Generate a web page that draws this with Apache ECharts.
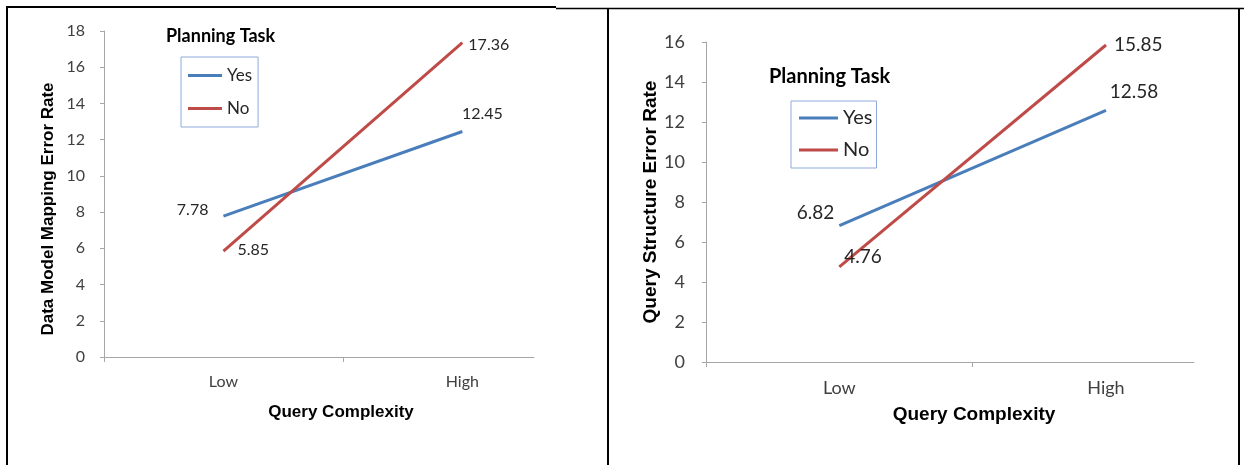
<!DOCTYPE html>
<html>
<head>
<meta charset="utf-8">
<script src="https://cdn.jsdelivr.net/npm/echarts@6/dist/echarts.min.js"></script>
<style>
  html, body { margin: 0; padding: 0; background: #ffffff; }
  #chart { width: 1244px; height: 465px; }
</style>
</head>
<body>
<div id="chart"></div>
<script>
// Categories on the horizontal axis
const categories = ['Low', 'High'];
const legendNames = ['Yes', 'No'];

// Data model mapping error rate (left panel)
const mappingYes = [7.78, 12.45];
const mappingNo = [5.85, 17.36];

// Query structure error rate (right panel)
const structureYes = [6.82, 12.58];
const structureNo = [4.76, 15.85];

// Vertical axis ranges
const mappingAxis = { min: 0, max: 18, interval: 2 };
const structureAxis = { min: 0, max: 16, interval: 2 };

const BLUE = '#4A7EBB';
const RED = '#BE4B48';
const AXIS_GRAY = '#A6A6A6';
const TEXT = '#262626';
const TICK_TEXT = '#404040';

const toPoints = vals => vals.map((v, i) => [i, v]);

function xAxisFor(gridIndex, max, fontSize, nameSize, nameGap, namePad) {
  return {
    type: 'value', gridIndex, min: -0.5, max, interval: 0.5,
    name: 'Query Complexity', nameLocation: 'middle', nameGap,
    nameTextStyle: { fontFamily: 'Liberation Sans', fontWeight: 'bold', fontSize: nameSize, color: '#000', padding: [0, 0, 0, namePad] },
    axisLine: { show: true, onZero: false, lineStyle: { color: AXIS_GRAY, width: 1 } },
    axisTick: { show: true, customValues: [-0.5, 0.5], length: 5, lineStyle: { color: AXIS_GRAY } },
    axisLabel: {
      customValues: [0, 1], margin: 17,
      fontFamily: 'Lato', fontSize, color: TICK_TEXT,
      formatter: v => categories[Math.round(v)]
    },
    splitLine: { show: false }
  };
}

function yAxisFor(gridIndex, range, name, fontSize, margin, nameSize, nameGap, namePad) {
  return {
    type: 'value', gridIndex, min: range.min, max: range.max, interval: range.interval,
    name, nameLocation: 'middle', nameRotate: 90, nameGap,
    nameTextStyle: { fontFamily: 'Liberation Sans', fontWeight: 'bold', fontSize: nameSize, color: '#000', padding: namePad },
    axisLine: { show: true, onZero: false, lineStyle: { color: AXIS_GRAY, width: 1 } },
    axisTick: { show: true, length: 4, lineStyle: { color: AXIS_GRAY } },
    axisLabel: { margin, fontFamily: 'Lato', fontSize, color: TICK_TEXT },
    splitLine: { show: false }
  };
}

function lineSeries(name, color, xi, values, labels, fontSize) {
  return {
    type: 'line', name, xAxisIndex: xi, yAxisIndex: xi,
    data: toPoints(values).map((p, i) => ({ value: p, label: labels[i] })),
    symbol: 'circle', symbolSize: 0,
    lineStyle: { color, width: 3 },
    itemStyle: { color },
    label: {
      show: true, fontFamily: 'Lato', fontSize, color: TEXT,
      formatter: p => p.value[1].toFixed(2)
    },
    emphasis: { disabled: true },
    animation: false
  };
}

function legendAt(left, top, itemWidth, fontSize, gap, padding) {
  return {
    left, top, orient: 'vertical', data: legendNames,
    icon: 'rect', itemWidth, itemHeight: 3, itemGap: gap,
    borderColor: '#8EA9DB', borderWidth: 1, padding,
    selectedMode: false,
    textStyle: { fontFamily: 'Lato', fontSize, color: TEXT }
  };
}

const chart = echarts.init(document.getElementById('chart'), null, { renderer: 'canvas' });

chart.setOption({
  backgroundColor: '#ffffff',
  animation: false,
  color: [BLUE, RED],
  title: [
    { text: 'Planning Task', left: 166, top: 27, padding: 0,
      textStyle: { fontFamily: 'Lato', fontWeight: 'bold', fontSize: 18, color: '#000' } },
    { text: 'Planning Task', left: 769, top: 67, padding: 0,
      textStyle: { fontFamily: 'Lato', fontWeight: 'bold', fontSize: 20, color: '#000' } }
  ],
  legend: [
    legendAt(181, 57, 34, 17, 16, [10, 6, 10, 7]),
    legendAt(791, 101, 39, 20, 12, [7, 4, 8, 8])
  ],
  grid: [
    { left: 104, top: 31, width: 430, height: 326 },
    { left: 706, top: 42, width: 488, height: 320 }
  ],
  xAxis: [
    xAxisFor(0, 1.3, 16, 17, 47, 44),
    xAxisFor(1, 1.33, 18, 19, 43, 48)
  ],
  yAxis: [
    yAxisFor(0, mappingAxis, 'Data Model Mapping Error Rate', 16, 19, 17, 47, [0, 30, 0, 0]),
    yAxisFor(1, structureAxis, 'Query Structure Error Rate', 18, 21, 19, 44, 0)
  ],
  series: [
    lineSeries('Yes', BLUE, 0, mappingYes, [
      { position: 'left', distance: 15, offset: [0, -6] },
      { position: 'top', distance: 10, offset: [20, 0] }
    ], 16),
    lineSeries('No', RED, 0, mappingNo, [
      { position: 'right', distance: 14, offset: [0, -1] },
      { position: 'right', distance: 6, offset: [0, 2] }
    ], 16),
    lineSeries('Yes', BLUE, 1, structureYes, [
      { position: 'left', distance: 5, offset: [0, -13] },
      { position: 'top', distance: 9, offset: [28, 0] }
    ], 19),
    lineSeries('No', RED, 1, structureNo, [
      { position: 'right', distance: 5, offset: [0, -10] },
      { position: 'right', distance: 8, offset: [0, 0] }
    ], 19)
  ],
  // Table frame around the two panels
  graphic: [
    { type: 'line', shape: { x1: 6, y1: 7, x2: 556, y2: 7 }, style: { stroke: '#000', lineWidth: 2 } },
    { type: 'line', shape: { x1: 556, y1: 8.5, x2: 1244, y2: 8.5 }, style: { stroke: '#000', lineWidth: 1.5 } },
    { type: 'line', shape: { x1: 7, y1: 6, x2: 7, y2: 465 }, style: { stroke: '#000', lineWidth: 2 } },
    { type: 'line', shape: { x1: 608, y1: 8, x2: 608, y2: 465 }, style: { stroke: '#000', lineWidth: 2 } },
    { type: 'line', shape: { x1: 1239, y1: 8, x2: 1239, y2: 465 }, style: { stroke: '#000', lineWidth: 2 } }
  ]
});
</script>
</body>
</html>
